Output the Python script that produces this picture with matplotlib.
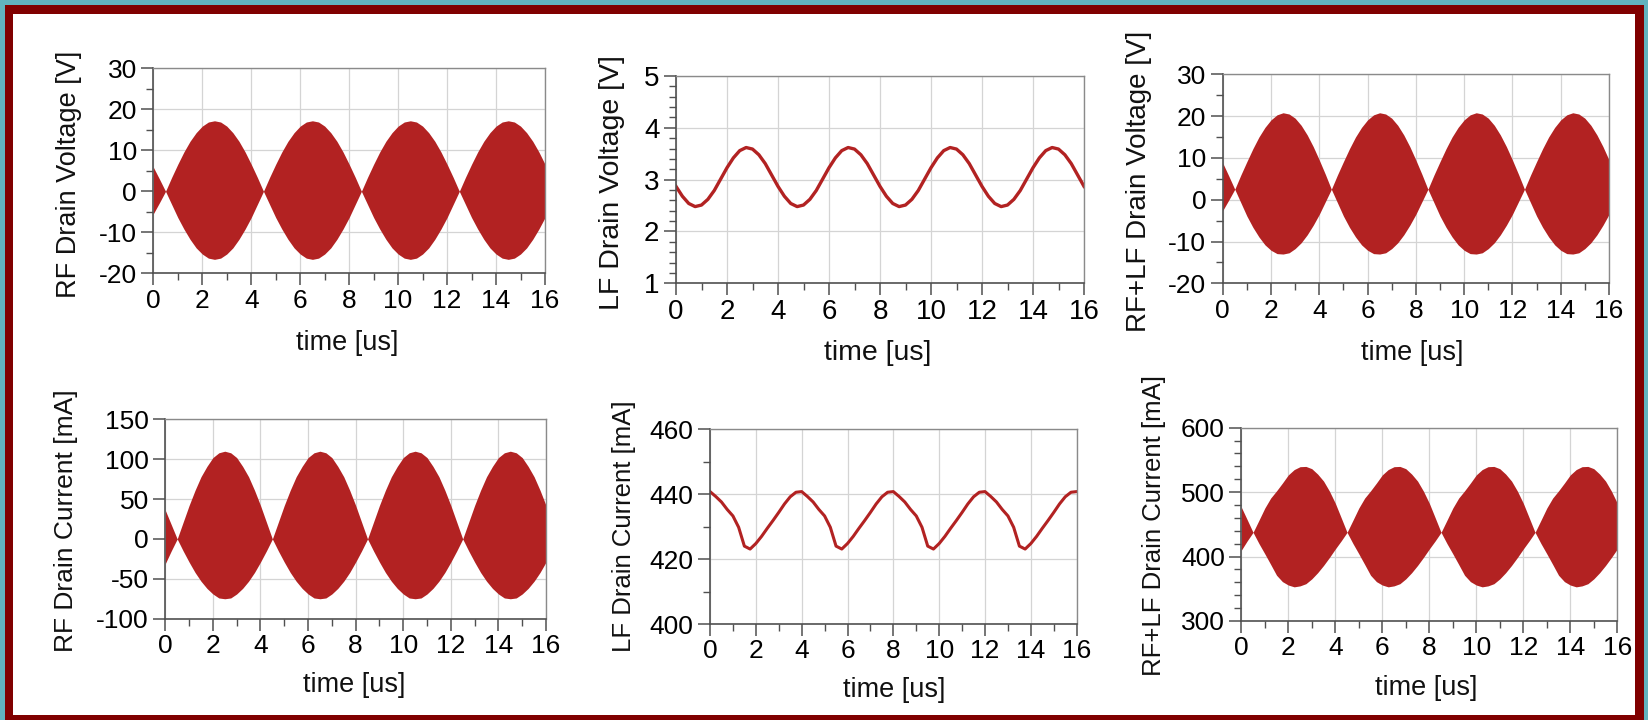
import numpy as np
import matplotlib.pyplot as plt
from matplotlib.patches import Rectangle
from matplotlib.ticker import MultipleLocator, NullLocator

plt.rcParams['font.family'] = ['Liberation Sans', 'DejaVu Sans']
plt.rcParams['axes.unicode_minus'] = False

W, H = 1648, 720

# time samples [us], every 0.25 us
t = np.linspace(0, 16, 65)

# RF drain voltage envelope [V]
rf_v_upper = [5.9, 3.0,
              0.0, 3.4, 6.6, 9.6, 12.2, 14.3, 15.9, 16.9, 17.2, 16.9, 15.9, 14.3, 12.2, 9.6, 6.6, 3.4,
              0.0, 3.4, 6.6, 9.6, 12.2, 14.3, 15.9, 16.9, 17.2, 16.9, 15.9, 14.3, 12.2, 9.6, 6.6, 3.4,
              0.0, 3.4, 6.6, 9.6, 12.2, 14.3, 15.9, 16.9, 17.2, 16.9, 15.9, 14.3, 12.2, 9.6, 6.6, 3.4,
              0.0, 3.4, 6.6, 9.6, 12.2, 14.3, 15.9, 16.9, 17.2, 16.9, 15.9, 14.3, 12.2, 9.6, 6.6]
rf_v_lower = [-5.5, -2.8,
              0.0, -3.2, -6.4, -9.2, -11.7, -13.8, -15.3, -16.3, -16.6, -16.3, -15.3, -13.8, -11.7, -9.2, -6.4, -3.2,
              0.0, -3.2, -6.4, -9.2, -11.7, -13.8, -15.3, -16.3, -16.6, -16.3, -15.3, -13.8, -11.7, -9.2, -6.4, -3.2,
              0.0, -3.2, -6.4, -9.2, -11.7, -13.8, -15.3, -16.3, -16.6, -16.3, -15.3, -13.8, -11.7, -9.2, -6.4, -3.2,
              0.0, -3.2, -6.4, -9.2, -11.7, -13.8, -15.3, -16.3, -16.6, -16.3, -15.3, -13.8, -11.7, -9.2, -6.4]

# LF drain voltage [V]
lf_v = [2.87, 2.68, 2.54, 2.48, 2.51, 2.62, 2.79, 3.01, 3.23, 3.42, 3.56, 3.62, 3.59, 3.48, 3.31, 3.09,
        2.87, 2.68, 2.54, 2.48, 2.51, 2.62, 2.79, 3.01, 3.23, 3.42, 3.56, 3.62, 3.59, 3.48, 3.31, 3.09,
        2.87, 2.68, 2.54, 2.48, 2.51, 2.62, 2.79, 3.01, 3.23, 3.42, 3.56, 3.62, 3.59, 3.48, 3.31, 3.09,
        2.87, 2.68, 2.54, 2.48, 2.51, 2.62, 2.79, 3.01, 3.23, 3.42, 3.56, 3.62, 3.59, 3.48, 3.31, 3.09,
        2.87]

# RF+LF drain voltage envelope [V]
rflf_v_upper = [8.8, 5.7,
                2.5, 5.9, 9.1, 12.2, 15.0, 17.3, 19.1, 20.3, 20.8, 20.5, 19.5, 17.8, 15.5, 12.7, 9.5, 6.1,
                2.5, 5.9, 9.1, 12.2, 15.0, 17.3, 19.1, 20.3, 20.8, 20.5, 19.5, 17.8, 15.5, 12.7, 9.5, 6.1,
                2.5, 5.9, 9.1, 12.2, 15.0, 17.3, 19.1, 20.3, 20.8, 20.5, 19.5, 17.8, 15.5, 12.7, 9.5, 6.1,
                2.5, 5.9, 9.1, 12.2, 15.0, 17.3, 19.1, 20.3, 20.8, 20.5, 19.5, 17.8, 15.5, 12.7, 9.5]
rflf_v_lower = [-2.6, -0.1,
                2.5, -0.7, -3.9, -6.6, -8.9, -10.8, -12.1, -12.9, -13.0, -12.7, -11.7, -10.3, -8.4, -6.1, -3.5, -0.5,
                2.5, -0.7, -3.9, -6.6, -8.9, -10.8, -12.1, -12.9, -13.0, -12.7, -11.7, -10.3, -8.4, -6.1, -3.5, -0.5,
                2.5, -0.7, -3.9, -6.6, -8.9, -10.8, -12.1, -12.9, -13.0, -12.7, -11.7, -10.3, -8.4, -6.1, -3.5, -0.5,
                2.5, -0.7, -3.9, -6.6, -8.9, -10.8, -12.1, -12.9, -13.0, -12.7, -11.7, -10.3, -8.4, -6.1, -3.5]

# RF drain current envelope [mA]
rf_i_upper = [36, 18,
              0, 21, 42, 61, 78, 91, 102, 108, 110, 108, 102, 91, 78, 61, 42, 21,
              0, 21, 42, 61, 78, 91, 102, 108, 110, 108, 102, 91, 78, 61, 42, 21,
              0, 21, 42, 61, 78, 91, 102, 108, 110, 108, 102, 91, 78, 61, 42, 21,
              0, 21, 42, 61, 78, 91, 102, 108, 110, 108, 102, 91, 78, 61, 42]
rf_i_lower = [-31, -15,
              0, -15, -29, -42, -53, -62, -69, -74, -75, -74, -69, -62, -53, -42, -29, -15,
              0, -15, -29, -42, -53, -62, -69, -74, -75, -74, -69, -62, -53, -42, -29, -15,
              0, -15, -29, -42, -53, -62, -69, -74, -75, -74, -69, -62, -53, -42, -29, -15,
              0, -15, -29, -42, -53, -62, -69, -74, -75, -74, -69, -62, -53, -42, -29]

# LF drain current [mA]
lf_i = [440.8, 439.3, 437.6, 435.3, 433.3, 429.8, 424.0, 423.1, 424.8, 427.0, 429.5, 431.9, 434.4, 437.0, 439.2, 440.6,
        440.8, 439.3, 437.6, 435.3, 433.3, 429.8, 424.0, 423.1, 424.8, 427.0, 429.5, 431.9, 434.4, 437.0, 439.2, 440.6,
        440.8, 439.3, 437.6, 435.3, 433.3, 429.8, 424.0, 423.1, 424.8, 427.0, 429.5, 431.9, 434.4, 437.0, 439.2, 440.6,
        440.8, 439.3, 437.6, 435.3, 433.3, 429.8, 424.0, 423.1, 424.8, 427.0, 429.5, 431.9, 434.4, 437.0, 439.2, 440.6,
        440.8]

# RF+LF drain current envelope [mA]
rflf_i_upper = [476.8, 457.3,
                437.6, 456.3, 475.3, 490.8, 502.0, 514.1, 526.8, 535.0, 539.5, 539.9, 536.4, 528.0, 517.2, 501.6, 482.8, 460.3,
                437.6, 456.3, 475.3, 490.8, 502.0, 514.1, 526.8, 535.0, 539.5, 539.9, 536.4, 528.0, 517.2, 501.6, 482.8, 460.3,
                437.6, 456.3, 475.3, 490.8, 502.0, 514.1, 526.8, 535.0, 539.5, 539.9, 536.4, 528.0, 517.2, 501.6, 482.8, 460.3,
                437.6, 456.3, 475.3, 490.8, 502.0, 514.1, 526.8, 535.0, 539.5, 539.9, 536.4, 528.0, 517.2, 501.6, 482.8]
rflf_i_lower = [409.8, 424.3,
                437.6, 420.3, 404.3, 387.8, 371.0, 361.1, 355.8, 353.0, 354.5, 357.9, 365.4, 375.0, 386.2, 398.6, 411.8, 424.3,
                437.6, 420.3, 404.3, 387.8, 371.0, 361.1, 355.8, 353.0, 354.5, 357.9, 365.4, 375.0, 386.2, 398.6, 411.8, 424.3,
                437.6, 420.3, 404.3, 387.8, 371.0, 361.1, 355.8, 353.0, 354.5, 357.9, 365.4, 375.0, 386.2, 398.6, 411.8, 424.3,
                437.6, 420.3, 404.3, 387.8, 371.0, 361.1, 355.8, 353.0, 354.5, 357.9, 365.4, 375.0, 386.2, 398.6, 411.8]

RED = '#B22222'

fig = plt.figure(figsize=(W / 100, H / 100), dpi=100)
fig.patch.set_facecolor('#62B3BF')
fig.add_artist(Rectangle((4.5 / W, 0), (W - 9) / W, (H - 5) / H, transform=fig.transFigure,
                         facecolor='#800000', edgecolor='none', zorder=-2))
fig.add_artist(Rectangle((12.7 / W, 5 / H), (W - 25.4) / W, (H - 19) / H, transform=fig.transFigure,
                         facecolor='white', edgecolor='none', zorder=-1))


def add_ax(l, r, top, bot):
	return fig.add_axes([l / W, 1 - bot / H, (r - l) / W, (bot - top) / H])


def style(ax, ylim, major, minor, tsize=19):
	ax.set_xlim(0, 16)
	ax.set_ylim(*ylim)
	ax.xaxis.set_major_locator(MultipleLocator(2))
	ax.xaxis.set_minor_locator(MultipleLocator(1))
	ax.yaxis.set_major_locator(MultipleLocator(major))
	if minor:
		ax.yaxis.set_minor_locator(MultipleLocator(minor))
	else:
		ax.yaxis.set_minor_locator(NullLocator())
	ax.set_axisbelow(True)
	ax.grid(True, which='major', color='#d4d4d4', lw=0.9)
	ax.tick_params(which='major', direction='out', length=8.6, width=1.1, color='#505050', labelsize=tsize)
	ax.tick_params(which='minor', direction='out', length=4.7, width=1.0, color='#505050')
	ax.tick_params(axis='x', which='major', pad=2.5)
	ax.tick_params(axis='y', which='major', pad=3.3)
	for s in ['left', 'bottom']:
		ax.spines[s].set_color('#505050')
		ax.spines[s].set_linewidth(1.2)
	for s in ['top', 'right']:
		ax.spines[s].set_color('#8a8a8a')
		ax.spines[s].set_linewidth(1.0)


def label(x, y, s, rot=0, size=19.5):
	fig.text(x / W, 1 - y / H, s, rotation=rot, ha='center', va='center', fontsize=size, color='#111111')


# top row
ax1 = add_ax(153.3, 545, 68.3, 273.3)
ax1.fill_between(t, rf_v_lower, rf_v_upper, color=RED, lw=0)
style(ax1, (-20, 30), 10, 5)
label(69, 174, 'RF Drain Voltage [V]', 90)
label(347, 343, 'time [us]')

ax2 = add_ax(676, 1084, 76, 283.3)
ax2.plot(t, lf_v, color=RED, lw=2.4)
style(ax2, (1, 5), 1, 0.2, 20)
label(612, 183, 'LF Drain Voltage [V]', 90, 20.5)
label(878, 353, 'time [us]', 0, 20.5)

ax3 = add_ax(1222.7, 1609, 74.3, 283.3)
ax3.fill_between(t, rflf_v_lower, rflf_v_upper, color=RED, lw=0)
style(ax3, (-20, 30), 10, 5)
label(1139, 181, 'RF+LF Drain Voltage [V]', 90, 20)
label(1412, 353, 'time [us]')

# bottom row
ax4 = add_ax(165.3, 546, 419.3, 618.7)
ax4.fill_between(t, rf_i_lower, rf_i_upper, color=RED, lw=0)
style(ax4, (-100, 150), 50, None)
label(66, 521, 'RF Drain Current [mA]', 90, 19)
label(354, 685, 'time [us]')

ax5 = add_ax(710, 1076.7, 429.3, 624)
ax5.plot(t, lf_i, color=RED, lw=2.2)
style(ax5, (400, 460), 20, 10)
label(624, 526, 'LF Drain Current [mA]', 90, 18.5)
label(894, 690, 'time [us]')

ax6 = add_ax(1241.3, 1617.3, 427.7, 621)
ax6.fill_between(t, rflf_i_lower, rflf_i_upper, color=RED, lw=0)
style(ax6, (300, 600), 100, 20)
label(1154, 526, 'RF+LF Drain Current [mA]', 90, 18.5)
label(1426, 688, 'time [us]')

fig.savefig('out.png', dpi=100, facecolor=fig.get_facecolor())
